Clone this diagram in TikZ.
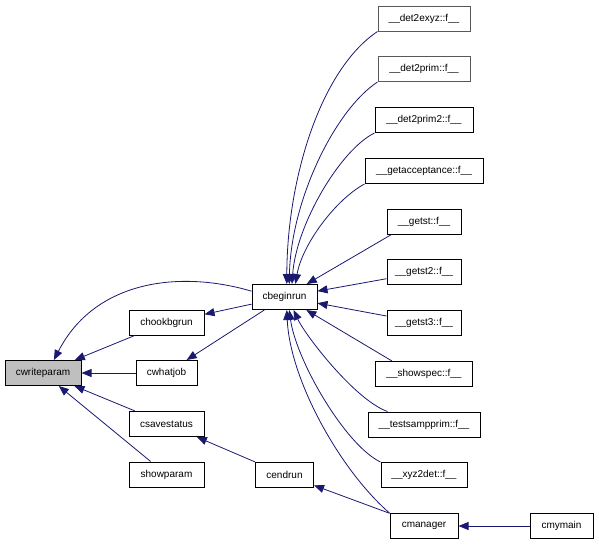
\documentclass[tikz,border=0pt]{standalone}
\usepackage{fontspec}
\setmainfont{Liberation Sans}
\usetikzlibrary{arrows.meta}
\definecolor{edgeblue}{RGB}{25,25,112}
\definecolor{nodegray}{RGB}{191,191,191}

\begin{document}
\begin{tikzpicture}
  [x=1pt,y=-1pt,
   fn/.style={draw=black,line width=1pt,rectangle,minimum height=25pt,inner sep=0pt,font=\fontsize{10}{12}\selectfont},
   call/.style={draw=edgeblue,line width=0.8pt,-{Triangle[length=10pt,width=8pt]}}]
  \useasboundingbox (0,0) rectangle (599,544);
  \node[fn,fill=nodegray,minimum width=76pt] (cwriteparam) at (43,373) {cwriteparam};
  \node[fn,minimum width=75pt] (chookbgrun) at (166.5,322.5) {chookbgrun};
  \node[fn,minimum width=61pt] (cwhatjob) at (166.5,373) {cwhatjob};
  \node[fn,minimum width=75pt] (csavestatus) at (166.5,424) {csavestatus};
  \node[fn,minimum width=75pt] (showparam) at (166.5,474.5) {showparam};
  \node[fn,minimum width=65pt] (cbeginrun) at (284.5,297) {cbeginrun};
  \node[fn,minimum width=58pt] (cendrun) at (284.5,474.5) {cendrun};
  \node[fn,draw=black!65,minimum width=92pt] (det2exyz) at (424,18.5) {\_\_det2exyz::f\_\_};
  \node[fn,draw=black!65,minimum width=92pt] (det2prim) at (424,69) {\_\_det2prim::f\_\_};
  \node[fn,minimum width=98pt] (det2prim2) at (424,120) {\_\_det2prim2::f\_\_};
  \node[fn,minimum width=118pt] (getacceptance) at (424,171) {\_\_getacceptance::f\_\_};
  \node[fn,minimum width=74pt] (getst) at (424,221.5) {\_\_getst::f\_\_};
  \node[fn,minimum width=74pt] (getst2) at (424,272) {\_\_getst2::f\_\_};
  \node[fn,minimum width=74pt] (getst3) at (424,323) {\_\_getst3::f\_\_};
  \node[fn,minimum width=97pt] (showspec) at (424,374) {\_\_showspec::f\_\_};
  \node[fn,minimum width=112pt] (testsampprim) at (424,424.5) {\_\_testsampprim::f\_\_};
  \node[fn,minimum width=86pt] (xyz2det) at (424,475) {\_\_xyz2det::f\_\_};
  \node[fn,minimum width=68pt] (cmanager) at (424,526) {cmanager};
  \node[fn,minimum width=63pt] (cmymain) at (561.5,526) {cmymain};

  \foreach \from/\to in {chookbgrun/cwriteparam,cwhatjob/cwriteparam,csavestatus/cwriteparam,showparam/cwriteparam,cbeginrun/chookbgrun,cbeginrun/cwhatjob,cendrun/csavestatus,cmanager/cendrun,cmymain/cmanager,getst2/cbeginrun,getst3/cbeginrun}
    \draw[call] (\from) -- (\to);

  \draw[call] (cbeginrun.170) .. controls (180,270) and (95,280) .. (cwriteparam.50);
  \draw[call] (det2exyz.south west) .. controls (320,70) and (287,180) .. (cbeginrun.80);
  \draw[call] (det2prim.south west) .. controls (335,110) and (291,200) .. (cbeginrun.70);
  \draw[call] (det2prim2.south west) .. controls (340,150) and (296,225) .. (cbeginrun.60);
  \draw[call] (getacceptance.south west) .. controls (335,200) and (302,245) .. (cbeginrun.50);
  \draw[call] ([xshift=5pt]getst.south west) -- (cbeginrun);
  \draw[call] ([xshift=17pt]showspec.north west) -- (cbeginrun);
  \draw[call] ([xshift=20pt]testsampprim.north west) .. controls (355,400) and (305,335) .. (cbeginrun.-55);
  \draw[call] (xyz2det.north west) .. controls (345,445) and (296,360) .. (cbeginrun.-70);
  \draw[call] (cmanager.north west) .. controls (340,470) and (290,380) .. (cbeginrun.-80);

\end{tikzpicture}
\end{document}
